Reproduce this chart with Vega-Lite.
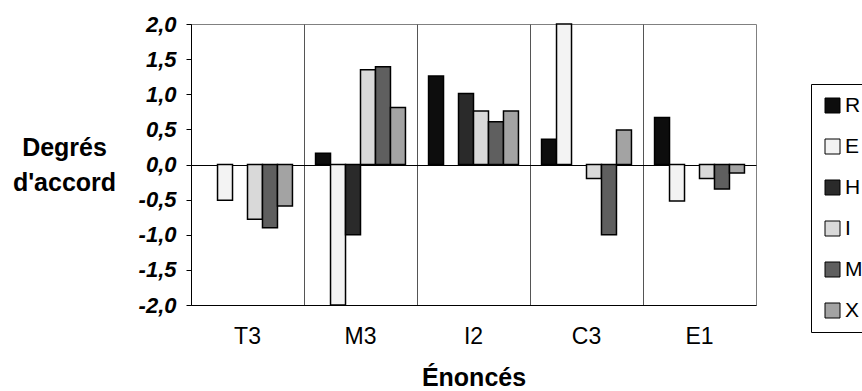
{
  "$schema": "https://vega.github.io/schema/vega-lite/v6.json",
  "width": 565,
  "height": 281,
  "autosize": "none",
  "padding": {"left": 191, "top": 24, "right": 106, "bottom": 86},
  "background": "white",
  "config": {
    "font": "Liberation Sans",
    "view": {"stroke": "#808080", "strokeWidth": 1}
  },
  "data": {
    "values": [
      {"enonce": "T3", "serie": "E", "value": -0.51},
      {"enonce": "T3", "serie": "I", "value": -0.78},
      {"enonce": "T3", "serie": "M", "value": -0.9},
      {"enonce": "T3", "serie": "X", "value": -0.59},
      {"enonce": "M3", "serie": "R", "value": 0.16},
      {"enonce": "M3", "serie": "E", "value": -2.0},
      {"enonce": "M3", "serie": "H", "value": -1.0},
      {"enonce": "M3", "serie": "I", "value": 1.35},
      {"enonce": "M3", "serie": "M", "value": 1.39},
      {"enonce": "M3", "serie": "X", "value": 0.81},
      {"enonce": "I2", "serie": "R", "value": 1.26},
      {"enonce": "I2", "serie": "H", "value": 1.01},
      {"enonce": "I2", "serie": "I", "value": 0.76},
      {"enonce": "I2", "serie": "M", "value": 0.61},
      {"enonce": "I2", "serie": "X", "value": 0.76},
      {"enonce": "C3", "serie": "R", "value": 0.36},
      {"enonce": "C3", "serie": "E", "value": 2.0},
      {"enonce": "C3", "serie": "I", "value": -0.2},
      {"enonce": "C3", "serie": "M", "value": -1.0},
      {"enonce": "C3", "serie": "X", "value": 0.49},
      {"enonce": "E1", "serie": "R", "value": 0.67},
      {"enonce": "E1", "serie": "E", "value": -0.52},
      {"enonce": "E1", "serie": "I", "value": -0.2},
      {"enonce": "E1", "serie": "M", "value": -0.35},
      {"enonce": "E1", "serie": "X", "value": -0.12}
    ]
  },
  "mark": {"type": "bar", "stroke": "black", "strokeWidth": 1.5},
  "encoding": {
    "x": {
      "field": "enonce",
      "type": "nominal",
      "sort": ["T3", "M3", "I2", "C3", "E1"],
      "scale": {"paddingInner": 0, "paddingOuter": 0},
      "axis": {
        "title": "Énoncés",
        "titleFontSize": 25,
        "titleFontWeight": "bold",
        "titleColor": "black",
        "titleY": 80,
        "titleBaseline": "alphabetic",
        "labelAngle": 0,
        "labelFontSize": 23,
        "labelColor": "black",
        "labelBaseline": "alphabetic",
        "labelPadding": 38,
        "ticks": false,
        "domainColor": "black",
        "domainWidth": 1,
        "grid": true,
        "gridColor": "#555555",
        "gridWidth": 1,
        "bandPosition": 0
      }
    },
    "xOffset": {
      "field": "serie",
      "type": "nominal",
      "scale": {"domain": ["R", "E", "H", "I", "M", "X"], "paddingInner": 0, "paddingOuter": 0.77}
    },
    "y": {
      "field": "value",
      "type": "quantitative",
      "scale": {"domain": [-2, 2], "nice": false},
      "axis": {
        "title": ["Degrés", "d'accord"],
        "titleAngle": 0,
        "titleAlign": "center",
        "titleBaseline": "alphabetic",
        "titleX": -127,
        "titleY": 131,
        "titleLineHeight": 35,
        "titleFontSize": 25,
        "titleFontWeight": "bold",
        "titleColor": "black",
        "values": [-2, -1.5, -1, -0.5, 0, 0.5, 1, 1.5, 2],
        "labelOverlap": false,
        "labelExpr": "(datum.value < 0 ? '-' : '') + replace(format(abs(datum.value), '.1f'), '.', ',')",
        "labelFontSize": 22,
        "labelFontWeight": "bold",
        "labelFontStyle": "italic",
        "labelColor": "black",
        "labelPadding": 10,
        "tickColor": "black",
        "tickSize": 5,
        "domainColor": "black",
        "grid": true,
        "gridColor": "black",
        "gridWidth": 1,
        "gridOpacity": {"condition": {"test": "datum.value === 0", "value": 1}, "value": 0}
      }
    },
    "color": {
      "field": "serie",
      "type": "nominal",
      "scale": {
        "domain": ["R", "E", "H", "I", "M", "X"],
        "range": ["#0d0d0d", "#f3f3f3", "#2a2a2a", "#d9d9d9", "#5f5f5f", "#a3a3a3"]
      },
      "legend": {
        "title": null,
        "orient": "none",
        "legendX": 620,
        "legendY": 60,
        "symbolType": "square",
        "symbolSize": 225,
        "symbolStrokeColor": "black",
        "symbolStrokeWidth": 1,
        "labelFontSize": 21,
        "labelColor": "black",
        "labelOffset": 2,
        "rowPadding": 19,
        "padding": 11,
        "strokeColor": "black",
        "fillColor": "white"
      }
    }
  }
}
